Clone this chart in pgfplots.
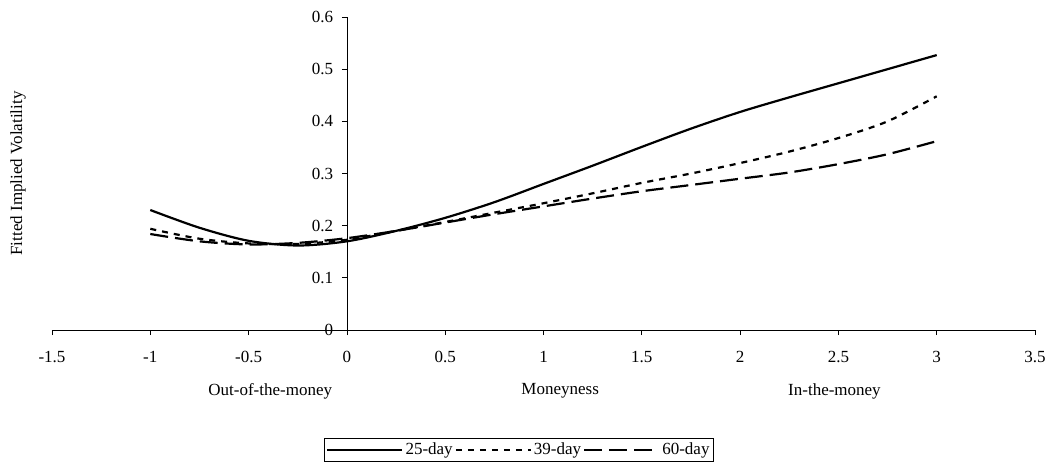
\documentclass[border=0pt]{standalone}
\usepackage{pgfplots}
\pgfplotsset{compat=1.18}
\usepackage{fontspec}
\setmainfont{Liberation Serif}
\pgfplotstableread{
x y
-1 0.230
-0.75 0.196
-0.5 0.171
-0.25 0.162
0 0.170
0.25 0.190
0.5 0.215
0.75 0.245
1 0.280
1.25 0.315
1.5 0.351
1.75 0.386
2 0.418
2.25 0.446
2.5 0.473
2.75 0.500
3 0.527
}\dA
\pgfplotstableread{
x y
-1 0.194
-0.75 0.175
-0.5 0.166
-0.25 0.165
0 0.173
0.25 0.190
0.5 0.207
0.75 0.225
1 0.243
1.25 0.262
1.5 0.282
1.75 0.300
2 0.320
2.25 0.342
2.5 0.368
2.75 0.400
3 0.448
}\dB
\pgfplotstableread{
x y
-1 0.184
-0.75 0.170
-0.5 0.164
-0.25 0.167
0 0.176
0.25 0.190
0.5 0.206
0.75 0.222
1 0.237
1.25 0.252
1.5 0.266
1.75 0.278
2 0.290
2.25 0.302
2.5 0.318
2.75 0.337
3 0.362
}\dC
\begin{document}
\fontsize{17}{20}\selectfont
\begin{tikzpicture}
\useasboundingbox (-52pt,-134pt) rectangle (1002pt,330pt);
\begin{axis}[
 at={(0,0)}, anchor=south west,
 scale only axis, width=983pt, height=313pt,
 xmin=-1.5, xmax=3.5, ymin=0, ymax=0.6,
 axis lines=middle,
 axis line style={-, line width=0.8pt},
 xtick={-1.5,-1,-0.5,0,0.5,1,1.5,2,2.5,3,3.5},
 xticklabels={-1.5,-1,-0.5,0,0.5,1,1.5,2,2.5,3,3.5},
 ytick={0,0.1,0.2,0.3,0.4,0.5,0.6},
 yticklabels={0,0.1,0.2,0.3,0.4,0.5,0.6},
 hide obscured x ticks=false, hide obscured y ticks=false,
 tick align=outside, major tick length=5pt,
 tick style={black, line width=0.8pt},
 xticklabel style={anchor=center, yshift=-22pt},
 yticklabel style={anchor=east, xshift=-3pt},
 tick label style={font=\fontsize{17}{20}\selectfont},
 legend style={at={(0.475,-0.383)}, anchor=center, legend columns=3,
   draw=black, line width=0.8pt, font=\fontsize{17}{20}\selectfont,
   /tikz/every even column/.append style={column sep=0pt},
   inner sep=2pt},
 legend image code/.code={\draw[#1] (0pt,0pt) -- (75pt,0pt);},
 legend cell align=left,
 clip=false,
]
\addplot[black, line width=2.2pt, smooth] table {\dA};
\addlegendentry{25-day}
\addplot[black, line width=2.2pt, smooth, dash pattern=on 6pt off 6pt] table {\dB};
\addlegendentry{39-day}
\addplot[black, line width=2.2pt, smooth, dash pattern=on 18pt off 7pt] table {\dC};
\addlegendentry{60-day}
\node[rotate=90] at (rel axis cs:-0.0346,0.5) {Fitted Implied Volatility};
\node at (rel axis cs:0.222,-0.195) {Out-of-the-money};
\node at (rel axis cs:0.517,-0.195) {Moneyness};
\node at (rel axis cs:0.796,-0.195) {In-the-money};
\end{axis}
\end{tikzpicture}
\end{document}
